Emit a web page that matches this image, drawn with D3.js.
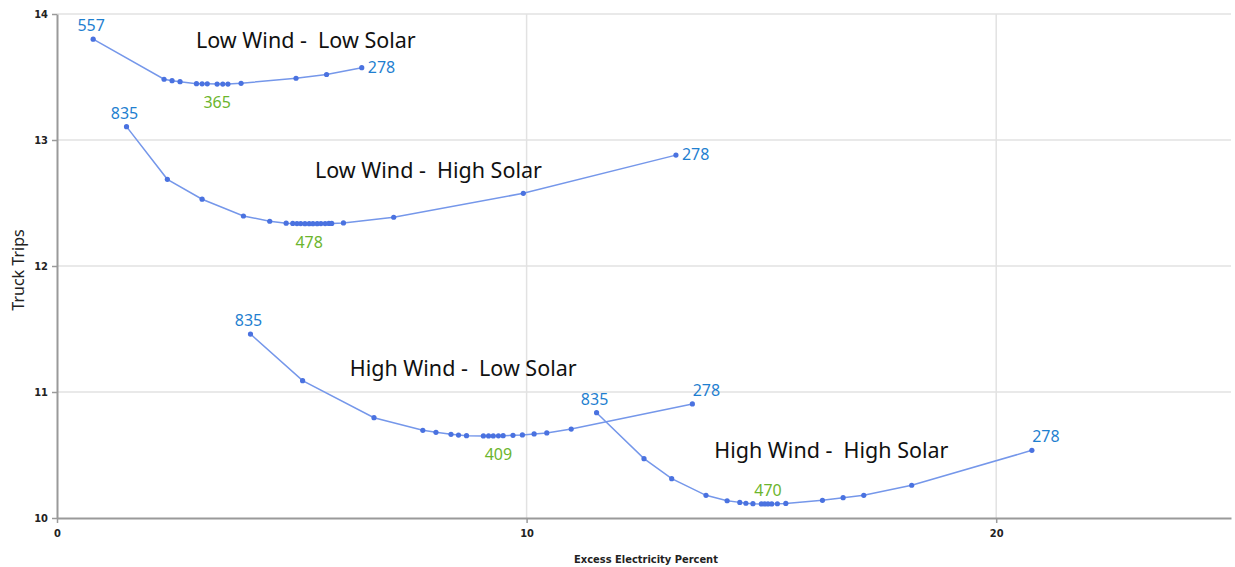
<!DOCTYPE html>
<html>
<head>
<meta charset="utf-8">
<script src="https://cdn.jsdelivr.net/npm/d3@7"></script>
<style>
  body { margin: 0; background: #fff; }
  svg { display: block; }
</style>
</head>
<body>
<div id="chart"></div>
<script>
// datos
const series = ["Low Wind -  Low Solar", "Low Wind -  High Solar", "High Wind -  Low Solar", "High Wind -  High Solar"];

const lowLowX = [0.77, 2.28, 2.45, 2.62, 2.97, 3.09, 3.20, 3.41, 3.53, 3.64, 3.92, 5.09, 5.74, 6.49];
const lowLowY = [13.80, 13.482, 13.471, 13.463, 13.447, 13.446, 13.446, 13.444, 13.444, 13.444, 13.45, 13.49, 13.52, 13.574];

const lowHighX = [1.48, 2.35, 3.09, 3.97, 4.53, 4.88, 5.02, 5.11, 5.19, 5.28, 5.37, 5.45, 5.54, 5.62, 5.71, 5.79, 5.85, 6.10, 7.17, 9.93, 13.18];
const lowHighY = [13.106, 12.688, 12.53, 12.397, 12.355, 12.34, 12.338, 12.337, 12.337, 12.336, 12.336, 12.336, 12.336, 12.337, 12.337, 12.338, 12.338, 12.342, 12.387, 12.577, 12.88];

const highLowX = [4.12, 5.23, 6.75, 7.79, 8.07, 8.39, 8.55, 8.72, 9.08, 9.19, 9.29, 9.40, 9.50, 9.71, 9.91, 10.16, 10.43, 10.95, 13.53];
const highLowY = [11.46, 11.09, 10.796, 10.696, 10.68, 10.664, 10.658, 10.653, 10.651, 10.651, 10.651, 10.652, 10.653, 10.656, 10.659, 10.667, 10.675, 10.706, 10.905];

const highHighX = [11.49, 12.50, 13.09, 13.82, 14.27, 14.54, 14.67, 14.82, 15.0, 15.07, 15.14, 15.22, 15.34, 15.52, 16.30, 16.74, 17.18, 18.20, 20.76];
const highHighY = [10.836, 10.471, 10.312, 10.180, 10.137, 10.124, 10.117, 10.114, 10.112, 10.112, 10.112, 10.112, 10.113, 10.116, 10.14, 10.161, 10.18, 10.26, 10.537];

// etiquetas: inicio, minimo, final
const startLabels = [557, 835, 835, 835];
const minLabels = [365, 478, 409, 470];
const endLabels = [278, 278, 278, 278];
const minIndex = [7, 10, 11, 10];

// posicion de los titulos (unidades del grafico)
const titleX = [5.30, 7.91, 8.65, 16.49];
const titleY = [13.73, 12.70, 11.127, 10.476];

const xTicks = [0, 10, 20];
const yTicks = [10, 11, 12, 13, 14];

const width = 1235, height = 567;
const margin = { top: 14, right: 5, bottom: 49, left: 57 };

const svg = d3.select("#chart").append("svg")
  .attr("width", width)
  .attr("height", height)
  .style("font-family", "'Noto Sans', 'Open Sans', sans-serif");

const x = d3.scaleLinear().domain([0, 25]).range([margin.left, 1231]);
const y = d3.scaleLinear().domain([10, 14]).range([height - margin.bottom, margin.top]);

// rejilla
svg.append("g").selectAll("line.h")
  .data(yTicks.slice(1))
  .enter().append("line")
  .attr("x1", x(0)).attr("x2", x(25))
  .attr("y1", d => y(d)).attr("y2", d => y(d))
  .attr("stroke", "#e2e2e2").attr("stroke-width", 1.5);

svg.append("g").selectAll("line.v")
  .data(xTicks.slice(1))
  .enter().append("line")
  .attr("x1", d => x(d)).attr("x2", d => x(d))
  .attr("y1", y(14)).attr("y2", y(10))
  .attr("stroke", "#e2e2e2").attr("stroke-width", 1.5);

// ejes
const xAxis = d3.axisBottom(x).tickValues(xTicks).tickFormat(d3.format("d")).tickSize(5).tickSizeOuter(0).tickPadding(6);
const yAxis = d3.axisLeft(y).tickValues(yTicks).tickFormat(d3.format("d")).tickSize(5).tickSizeOuter(0).tickPadding(4);

const gx = svg.append("g")
  .attr("transform", `translate(0, ${y(10)})`)
  .call(xAxis);
const gy = svg.append("g")
  .attr("transform", `translate(${x(0)}, 0)`)
  .call(yAxis);

[gx, gy].forEach(g => {
  g.select(".domain").attr("stroke", "#9a9a9a").attr("stroke-width", 2);
  g.selectAll(".tick line").attr("stroke", "#9a9a9a").attr("stroke-width", 1.5);
  g.selectAll(".tick text")
    .attr("fill", "#222")
    .style("font-size", "11px")
    .style("font-weight", "bold")
    .style("font-family", "'DejaVu Sans Condensed', 'DejaVu Sans', sans-serif");
});

svg.append("text")
  .attr("x", (x(0) + x(25)) / 2 + 2)
  .attr("y", 563)
  .attr("text-anchor", "middle")
  .style("font-size", "11px")
  .style("font-weight", "bold")
  .style("font-family", "'DejaVu Sans Condensed', 'DejaVu Sans', sans-serif")
  .attr("fill", "#222")
  .text("Excess Electricity Percent");

svg.append("text")
  .attr("transform", `translate(24, ${y(12) + 4}) rotate(-90)`)
  .attr("text-anchor", "middle")
  .style("font-size", "16px")
  .attr("fill", "#222")
  .text("Truck Trips");

// series
const datos = [
  [lowLowX, lowLowY],
  [lowHighX, lowHighY],
  [highLowX, highLowY],
  [highHighX, highHighY]
].map(([xs, ys]) => xs.map((v, i) => ({ x: v, y: ys[i] })));

const linea = d3.line().x(d => x(d.x)).y(d => y(d.y));

// como se coloca la etiqueta final y la minima
const endPos = ["right", "right", "above", "above"];
const minPos = ["below", "below", "below", "above"];

datos.forEach((pts, s) => {
  const g = svg.append("g");
  g.append("path")
    .datum(pts)
    .attr("d", linea)
    .attr("fill", "none")
    .attr("stroke", "#7597ea")
    .attr("stroke-width", 1.5);

  g.selectAll("circle")
    .data(pts)
    .enter().append("circle")
    .attr("cx", d => x(d.x))
    .attr("cy", d => y(d.y))
    .attr("r", 2.6)
    .attr("fill", "#4a72e0");

  const first = pts[0], last = pts[pts.length - 1], low = pts[minIndex[s]];

  g.append("text")
    .attr("x", x(first.x) - 2)
    .attr("y", y(first.y) - 8)
    .attr("text-anchor", "middle")
    .attr("fill", "#1f7fd0")
    .style("font-size", "16px")
    .text(startLabels[s]);

  const endT = g.append("text")
    .attr("fill", "#1f7fd0")
    .style("font-size", "16px")
    .text(endLabels[s]);
  if (endPos[s] === "right") {
    endT.attr("x", x(last.x) + 6).attr("y", y(last.y) + 5).attr("text-anchor", "start");
  } else {
    endT.attr("x", x(last.x) + 14).attr("y", y(last.y) - 8).attr("text-anchor", "middle");
  }

  g.append("text")
    .attr("x", x(low.x))
    .attr("y", minPos[s] === "below" ? y(low.y) + 24 : y(low.y) - 8)
    .attr("text-anchor", "middle")
    .attr("fill", "#6cb52d")
    .style("font-size", "16px")
    .text(minLabels[s]);

  svg.append("text")
    .attr("x", x(titleX[s]))
    .attr("y", y(titleY[s]))
    .attr("text-anchor", "middle")
    .attr("fill", "#111")
    .style("font-size", "21.5px")
    .style("white-space", "pre")
    .attr("xml:space", "preserve")
    .text(series[s]);
});
</script>
</body>
</html>
